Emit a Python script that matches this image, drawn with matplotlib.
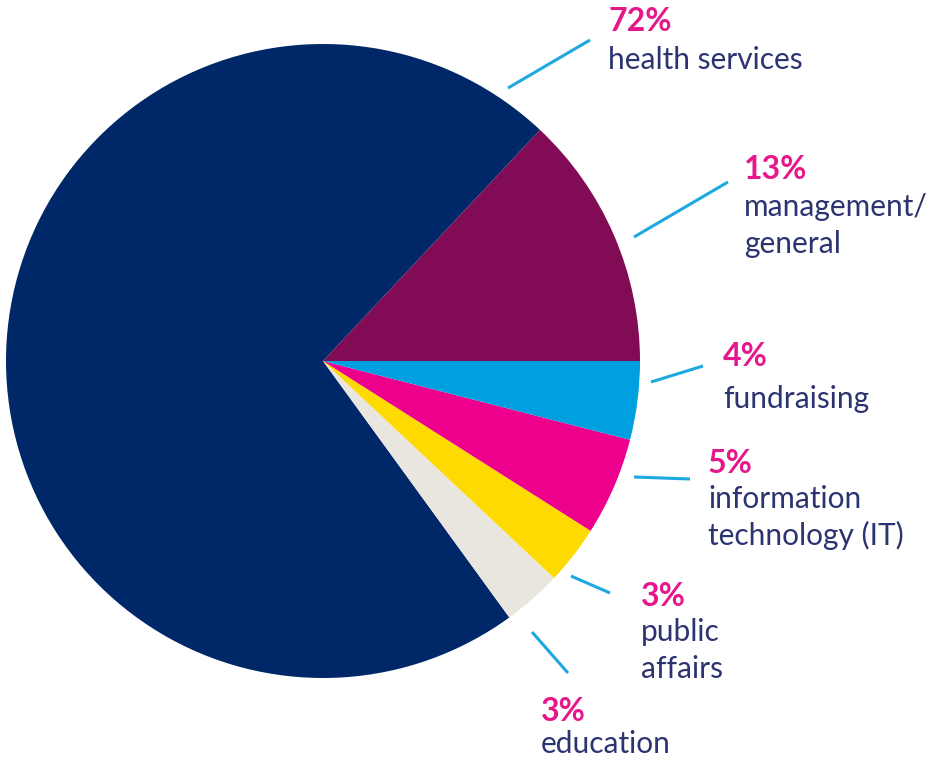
import matplotlib.pyplot as plt

# dados
categorias = ["management/\ngeneral", "health services", "education",
              "public\naffairs", "information\ntechnology (IT)", "fundraising"]
valores = [13, 72, 3, 3, 5, 4]
rotulos_pct = ["13%", "72%", "3%", "3%", "5%", "4%"]

CORES = ["#820B55", "#002868", "#E9E6E0", "#FFDA00", "#EC008C", "#009FE0"]
COR_PCT = "#E6178A"
COR_TXT = "#2B3470"
COR_LINHA = "#1DA9DF"

# layout em pixels: (x texto, baseline pct, baseline rotulo) e linhas guia
W, H = 944, 757
CX, CY, R = 323, 361, 317
pos_texto = [(744, 179, 216), (608, 31, 69), (541, 721, 753),
             (641, 606, 641), (708, 473, 508), (723, 366, 408)]
linhas = [((634, 237), (728, 182)), ((508, 88), (590, 40)),
          ((532, 632), (568, 673)), ((571, 576), (610, 593)),
          ((634, 477), (690, 479)), ((651, 382), (703, 366))]


def px(x, y):
    return (x - CX) / R, (CY - y) / R


plt.rcParams['font.family'] = ['Lato', 'DejaVu Sans']
fig = plt.figure(figsize=(W / 100, H / 100), dpi=100)
ax = fig.add_axes([0, 0, 1, 1])
ax.pie(valores, colors=CORES, startangle=0, counterclock=True,
       radius=1.0, wedgeprops=dict(linewidth=0))
ax.set_xlim(-CX / R, (W - CX) / R)
ax.set_ylim(-(H - CY) / R, CY / R)
ax.set_aspect('equal')
ax.axis('off')

for i, cat in enumerate(categorias):
    (x0, y0), (x1, y1) = linhas[i]
    a, b = px(x0, y0)
    c, d = px(x1, y1)
    ax.plot([a, c], [b, d], color=COR_LINHA, linewidth=2.2,
            solid_capstyle='butt')
    tx, yp, yl = pos_texto[i]
    ax.text(*px(tx, yp), rotulos_pct[i], color=COR_PCT, fontsize=23,
            fontweight='bold', ha='left', va='baseline')
    linhas_txt = cat.split("\n")
    for j, t in enumerate(linhas_txt):
        ax.text(*px(tx, yl + j * 37), t, color=COR_TXT, fontsize=21.5,
                ha='left', va='baseline')

plt.savefig("out.png", dpi=100)
plt.close()
